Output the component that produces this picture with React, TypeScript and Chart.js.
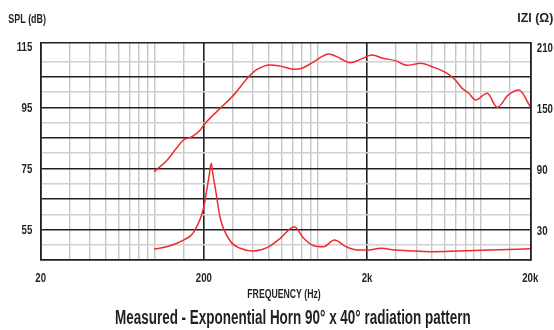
import React, { useEffect, useRef } from "react";
import { Chart, registerables } from "chart.js";

Chart.register(...registerables);

// ---- data ----
const SPL_FREQ = [99, 119, 133, 150, 169, 190, 204, 252, 304, 376, 423, 510, 588, 709, 798, 941, 1163, 1372, 1579, 1819, 2146, 2528, 2982, 3520, 4246, 5124, 6192, 6964, 7654, 8402, 9234, 10890, 12550, 14620, 17030, 20000];
const SPL_DB = [73.9, 77.7, 81.0, 84.3, 85.4, 87.6, 89.8, 94.7, 99.0, 105.0, 107.4, 108.9, 108.5, 107.5, 107.8, 109.9, 112.5, 111.0, 109.6, 110.7, 112.1, 111.0, 110.3, 108.75, 109.4, 108.1, 106.1, 103.9, 101.2, 99.6, 97.4, 99.6, 95.0, 99.0, 100.7, 95.2];

const IMP_FREQ = [99, 124, 150, 173, 199, 209, 215, 222, 227, 235, 252, 290, 334, 403, 487, 588, 716, 817, 941, 1083, 1260, 1486, 1751, 1988, 2438, 2942, 3550, 4940, 7192, 11530, 20000];
const IMP_OHM = [10.5, 14.0, 19.6, 27.2, 50.8, 70.4, 82.0, 95.0, 84.5, 70.4, 41.0, 18.7, 11.5, 8.8, 12.1, 21.3, 32.7, 21.3, 14.0, 13.1, 19.6, 13.1, 9.8, 9.8, 11.5, 9.8, 9.1, 8.2, 8.8, 9.8, 11.1];

const FREQ_MIN = 20;
const FREQ_MAX = 20000;
const FREQ_GRID = [20, 30, 40, 50, 60, 70, 80, 90, 100, 150, 200, 300, 400, 500, 600, 700, 800, 900, 1000, 1500, 2000, 3000, 4000, 5000, 6000, 7000, 8000, 9000, 10000, 15000, 20000];
const FREQ_MAJOR = [20, 200, 2000, 20000];
const FREQ_TICK_VALUES = [20, 200, 2000, 20000];
const FREQ_TICK_LABELS = ["20", "200", "2k", "20k"];

const SPL_MIN = 45;
const SPL_TOP = 116.3;
const SPL_GRID_MINOR = [50, 60, 70, 80, 90, 100, 110];
const SPL_GRID_MAJOR = [45, 55, 65, 75, 85, 95, 105];
const SPL_TICK_VALUES = [55, 75, 95, 115];
const SPL_TICK_LABELS = ["55", "75", "95", "115"];

const IMP_MIN = 0;
const IMP_TOP = (SPL_TOP - SPL_MIN) * 3;
const IMP_TICK_VALUES = [30, 90, 150, 210];
const IMP_TICK_LABELS = ["30", "90", "150", "210"];

const TITLE = "Measured - Exponential Horn 90\u00b0 x 40\u00b0 radiation pattern";
const X_TITLE = "FREQUENCY (Hz)";
const Y_TITLE = "SPL (dB)";
const Y2_TITLE = "IZI (\u03a9)";

const FONT = "'Liberation Sans', Arial, sans-serif";
const BLACK = "#231f20";
const GRAY_V = "#c6c6c6";
const GRAY_H = "#d0d0d0";
const RED = "#ee2a32";

const TICK_SIZE = 13.5;

const textPlugin = {
  id: "texts",
  afterDraw(chart: any) {
    const ctx = chart.ctx as CanvasRenderingContext2D;
    const x = chart.scales.x;
    const y = chart.scales.y;
    const y2 = chart.scales.y2;

    const draw = (text: string, x0: number, x1: number, baseline: number, size: number) => {
      ctx.save();
      ctx.font = `bold ${size}px ${FONT}`;
      ctx.fillStyle = BLACK;
      ctx.textBaseline = "alphabetic";
      ctx.textAlign = "left";
      const w = ctx.measureText(text).width;
      const sx = (x1 - x0) / w;
      ctx.translate(x0, baseline);
      ctx.scale(sx, 1);
      ctx.fillText(text, 0, 0);
      ctx.restore();
    };

    // tick labels, condensed
    ctx.save();
    ctx.font = `bold ${TICK_SIZE}px ${FONT}`;
    const ref = ctx.measureText("115").width;
    ctx.restore();
    const sx = 15.6 / ref;
    const cap = TICK_SIZE * 0.716;
    const tick = (text: string, px: number, cy: number, align: "left" | "right" | "center") => {
      ctx.save();
      ctx.font = `bold ${TICK_SIZE}px ${FONT}`;
      ctx.fillStyle = BLACK;
      ctx.textBaseline = "alphabetic";
      ctx.textAlign = align;
      ctx.translate(px, cy + cap / 2);
      ctx.scale(sx, 1);
      ctx.fillText(text, 0, 0);
      ctx.restore();
    };
    SPL_TICK_VALUES.forEach((v, i) => tick(SPL_TICK_LABELS[i], chart.chartArea.left - 8.4, y.getPixelForValue(v) - 0.3, "right"));
    IMP_TICK_VALUES.forEach((v, i) => tick(IMP_TICK_LABELS[i], chart.chartArea.right + 6.5, y2.getPixelForValue(v) + 0.5, "left"));
    FREQ_TICK_VALUES.forEach((v, i) => tick(FREQ_TICK_LABELS[i], x.getPixelForValue(v), chart.chartArea.bottom + 16.7, "center"));

    draw(Y_TITLE, 8.3, 46, 22.5, 12.5);
    draw(Y2_TITLE, 517.3, 553.3, 21.5, 12.5);
    draw(X_TITLE, 247.3, 320.7, 298.3, 13);
    draw(TITLE, 115, 470.7, 324, 19.5);
  },
};

export default function App() {
  const ref = useRef<HTMLCanvasElement | null>(null);

  useEffect(() => {
    document.body.style.margin = "0";
    const canvas = ref.current;
    if (!canvas) return;

    const splData = SPL_FREQ.map((f, i) => ({ x: f, y: SPL_DB[i] }));
    const impData = IMP_FREQ.map((f, i) => ({ x: f, y: IMP_OHM[i] }));

    const chart = new Chart(canvas, {
      type: "line",
      data: {
        datasets: [
          {
            data: splData,
            yAxisID: "y",
            borderColor: RED,
            borderWidth: 1.5,
            pointRadius: 0,
            cubicInterpolationMode: "monotone",
            fill: false,
          },
          {
            data: impData,
            yAxisID: "y2",
            borderColor: RED,
            borderWidth: 1.5,
            pointRadius: 0,
            cubicInterpolationMode: "monotone",
            fill: false,
          },
        ],
      },
      options: {
        animation: false,
        responsive: false,
        maintainAspectRatio: false,
        devicePixelRatio: 1,
        layout: { padding: { top: 42.3, left: 0, right: 0, bottom: 0 } },
        plugins: {
          legend: { display: false },
          tooltip: { enabled: false },
          title: { display: false },
        },
        scales: {
          x: {
            type: "logarithmic",
            position: "bottom",
            min: FREQ_MIN,
            max: FREQ_MAX,
            afterBuildTicks: (scale: any) => {
              scale.ticks = FREQ_GRID.map((v) => ({ value: v }));
            },
            afterFit: (scale: any) => {
              scale.height = 70;
            },
            ticks: { display: false, autoSkip: false, maxRotation: 0, minRotation: 0 },
            grid: {
              drawTicks: false,
              color: (c: any) => (FREQ_MAJOR.includes(c.tick?.value) ? BLACK : GRAY_V),
              lineWidth: (c: any) => (FREQ_MAJOR.includes(c.tick?.value) ? 1.6 : 1.4),
            },
            border: { display: true, color: BLACK, width: 1.6 },
          },
          y: {
            type: "linear",
            position: "left",
            min: SPL_MIN,
            max: SPL_TOP,
            afterBuildTicks: (scale: any) => {
              const vals = Array.from(new Set([...SPL_GRID_MAJOR, ...SPL_GRID_MINOR, SPL_TOP])).sort((a, b) => a - b);
              scale.ticks = vals.map((v) => ({ value: v }));
            },
            afterFit: (scale: any) => {
              scale.width = 40.7;
            },
            ticks: { display: false, autoSkip: false },
            grid: {
              drawTicks: false,
              color: (c: any) => {
                const v = c.tick?.value;
                if (v === SPL_TOP || SPL_GRID_MAJOR.includes(v)) return BLACK;
                return GRAY_H;
              },
              lineWidth: (c: any) => {
                const v = c.tick?.value;
                if (v === SPL_TOP || SPL_GRID_MAJOR.includes(v)) return 1.6;
                return 1.4;
              },
            },
            border: { display: true, color: BLACK, width: 1.6 },
          },
          y2: {
            type: "linear",
            position: "right",
            min: IMP_MIN,
            max: IMP_TOP,
            afterBuildTicks: (scale: any) => {
              scale.ticks = IMP_TICK_VALUES.map((v) => ({ value: v }));
            },
            afterFit: (scale: any) => {
              scale.width = 554 - 530.3;
            },
            ticks: { display: false, autoSkip: false },
            grid: { display: false, drawTicks: false },
            border: { display: true, color: BLACK, width: 1.6 },
          },
        },
      },
      plugins: [textPlugin],
    } as any);

    return () => {
      chart.destroy();
    };
  }, []);

  return (
    <div style={{ position: "fixed", left: 0, top: 0, width: 554, height: 330, background: "#fff" }}>
      <canvas ref={ref} width={554} height={330} style={{ width: 554, height: 330 }} />
    </div>
  );
}
